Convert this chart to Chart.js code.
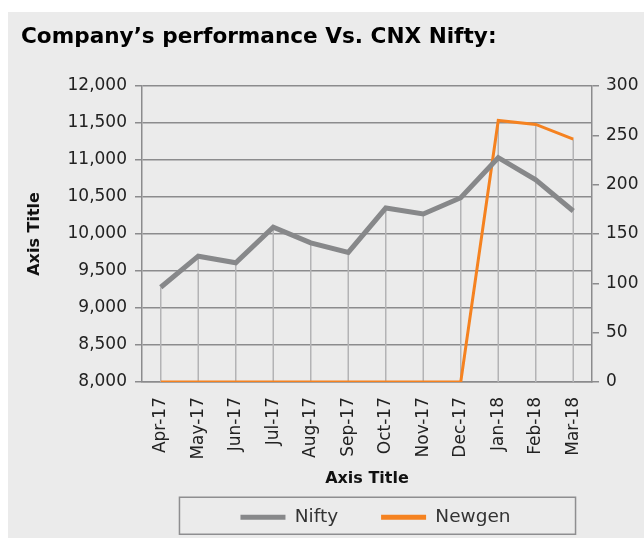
<!DOCTYPE html>
<html>
<head>
<meta charset="utf-8">
<title>Company's performance Vs. CNX Nifty</title>
<script src="https://cdn.jsdelivr.net/npm/chart.js"></script>
<style>
  html, body { margin: 0; padding: 0; background: #fff; }
  .panel { position: absolute; left: 8px; top: 12px; width: 636px; height: 526px; background: #ebebeb; }
</style>
</head>
<body>
<div class="panel"><canvas id="perfChart"></canvas></div>
<script>
// values
const months = ['Apr-17', 'May-17', 'Jun-17', 'Jul-17', 'Aug-17', 'Sep-17',
                'Oct-17', 'Nov-17', 'Dec-17', 'Jan-18', 'Feb-18', 'Mar-18'];
const nifty  = [9280, 9700, 9610, 10090, 9880, 9750, 10350, 10270, 10490, 11030, 10730, 10310];
const newgen = [0, 0, 0, 0, 0, 0, 0, 0, 0, 265, 261, 246];
const niftyTicks  = { min: 8000, max: 12000, step: 500 };
const newgenTicks = { min: 0, max: 300, step: 50 };

const GRID = '#8b8b8d';
const FONT = 'DejaVu Sans';

// Excel style drop lines: from the highest point of each category down to the axis
const dropLines = {
  id: 'dropLines',
  beforeDatasetsDraw(chart) {
    const ctx = chart.ctx, bottom = chart.chartArea.bottom;
    const metas = chart.data.datasets.map((d, i) => chart.getDatasetMeta(i));
    ctx.save();
    ctx.strokeStyle = '#b3b3b5';
    ctx.lineWidth = 1.5;
    months.forEach((m, j) => {
      const top = Math.min(...metas.map(mt => mt.data[j].y));
      const x = metas[0].data[j].x;
      ctx.beginPath();
      ctx.moveTo(x, top);
      ctx.lineTo(x, bottom);
      ctx.stroke();
    });
    ctx.restore();
  }
};

// move the legend under the plot and put a frame round it
const legendBox = {
  id: 'legendBox',
  afterLayout(chart) {
    const l = chart.legend;
    l.left += 43; l.right += 43;
    l.top -= 24;
  },
  afterDraw(chart) {
    const hb = chart.legend.legendHitBoxes;
    if (!hb || !hb.length) return;
    const left = Math.min(...hb.map(h => h.left)) - 61;
    const right = Math.max(...hb.map(h => h.left + h.width)) + 65;
    const cy = hb[0].top + hb[0].height / 2;
    const ctx = chart.ctx;
    ctx.save();
    ctx.strokeStyle = '#8e8e90';
    ctx.lineWidth = 1.5;
    ctx.strokeRect(left, cy - 20, right - left, 37);
    ctx.restore();
  }
};

new Chart(document.getElementById('perfChart'), {
  type: 'line',
  data: {
    labels: months,
    datasets: [
      { label: 'Nifty', data: nifty, yAxisID: 'y', borderColor: '#87888a', backgroundColor: '#87888a',
        borderWidth: 5, pointRadius: 0, tension: 0 },
      { label: 'Newgen', data: newgen, yAxisID: 'y1', borderColor: '#f58220', backgroundColor: '#f58220',
        borderWidth: 3, pointRadius: 0, tension: 0 }
    ]
  },
  options: {
    responsive: true,
    maintainAspectRatio: false,
    animation: false,
    layout: { padding: { left: 13, right: 0, top: 0, bottom: 4 } },
    scales: {
      x: {
        offset: true,
        grid: { display: false },
        border: { display: true, color: GRID, width: 1.5 },
        ticks: { color: '#222', font: { family: FONT, size: 17 }, minRotation: 90, maxRotation: 90, padding: 7, autoSkip: false },
        title: { display: true, text: 'Axis Title', color: '#111', padding: { top: 4, bottom: 1 },
                 font: { family: FONT, size: 16, weight: 'bold' } },
        afterFit(s) { s.height = 107; }
      },
      y: {
        position: 'left',
        min: niftyTicks.min, max: niftyTicks.max,
        grid: { color: GRID, lineWidth: 1.5, tickLength: 7 },
        border: { display: true, color: GRID, width: 1.5 },
        ticks: { stepSize: niftyTicks.step, color: '#222', padding: 8, font: { family: FONT, size: 17 },
                 callback: v => v.toLocaleString('en-US') },
        title: { display: true, text: 'Axis Title', color: '#111', font: { family: FONT, size: 16, weight: 'bold' } },
        afterFit(s) { s.width = 121; }
      },
      y1: {
        position: 'right',
        min: newgenTicks.min, max: newgenTicks.max,
        grid: { drawOnChartArea: false, color: GRID, lineWidth: 1.5, tickLength: 7 },
        border: { display: true, color: GRID, width: 1.5 },
        ticks: { stepSize: newgenTicks.step, color: '#222', padding: 7, font: { family: FONT, size: 17 } },
        afterFit(s) { s.width = 52; }
      }
    },
    plugins: {
      title: {
        display: true, align: 'start', text: 'Company’s performance Vs. CNX Nifty:',
        color: '#000', font: { family: FONT, size: 21.6, weight: 'bold' }, padding: { top: 12, bottom: 36 }
      },
      legend: {
        position: 'bottom',
        maxHeight: 45,
        labels: {
          boxWidth: 45, boxHeight: 5, padding: 43, color: '#333', font: { family: FONT, size: 18.5 },
          generateLabels(chart) {
            const items = Chart.defaults.plugins.legend.labels.generateLabels(chart);
            items.forEach(it => { it.lineWidth = 0; it.fillStyle = it.strokeStyle; });
            return items;
          }
        }
      },
      tooltip: { enabled: false }
    }
  },
  plugins: [dropLines, legendBox]
});
</script>
</body>
</html>
